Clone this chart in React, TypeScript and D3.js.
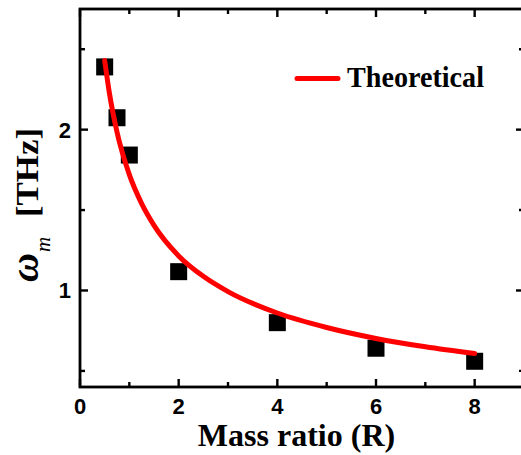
import React from "react";
import * as d3 from "d3";

const massRatio = [0.5, 0.75, 1, 2, 4, 6, 8];
const omegaMeasured = [2.39, 2.074, 1.842, 1.117, 0.8, 0.641, 0.56];

const theoryR = [0.5, 0.6, 0.75, 1, 1.25, 1.5, 2, 2.5, 3, 4, 5, 6, 7, 8];
const theoryOmega = [2.43, 2.22, 1.985, 1.72, 1.54, 1.405, 1.215, 1.088, 0.993, 0.86, 0.77, 0.702, 0.65, 0.608];

const xMajorTicks = [0, 2, 4, 6, 8];
const xMinorTicks = [1, 3, 5, 7, 9];
const yMajorTicks = [1, 2];
const yMinorTicks = [0.5, 1.5, 2.5];

const legendLabel = "Theoretical";
const xTitle = "Mass ratio (R)";

const W = 521;
const H = 455;
const left = 80;
const right = 524;
const top = 9;
const bottom = 387;

export default function App() {
  const x = d3.scaleLinear().domain([0, 9]).range([left, right]);
  const y = d3.scaleLinear().domain([0.4, 2.75]).range([bottom, top]);

  const line = d3
    .line<number>()
    .x((_, i) => x(theoryR[i]))
    .y((d) => y(d))
    .curve(d3.curveMonotoneX);

  const sq = 17;
  const tickFont = "'Liberation Sans', Arial, sans-serif";
  const serif = "'Liberation Serif', 'Times New Roman', serif";
  const axisW = 2.8;
  const majL = 8;
  const minL = 5;

  return (
    <svg
      width={W}
      height={H}
      style={{ position: "absolute", left: 0, top: 0, background: "#fff" }}
    >
      {/* frame */}
      <rect
        x={left}
        y={top}
        width={right - left}
        height={bottom - top}
        fill="none"
        stroke="#000"
        strokeWidth={axisW}
      />
      {/* x ticks bottom & top */}
      {xMajorTicks.map((t) => (
        <g key={"xM" + t}>
          <line x1={x(t)} x2={x(t)} y1={bottom} y2={bottom - majL} stroke="#000" strokeWidth={2.4} />
          <line x1={x(t)} x2={x(t)} y1={top} y2={top + majL} stroke="#000" strokeWidth={2.4} />
          <text
            x={x(t)}
            y={413.5}
            textAnchor="middle"
            fontFamily={tickFont}
            fontWeight="bold"
            fontSize={22}
          >
            {t}
          </text>
        </g>
      ))}
      {xMinorTicks.map((t) => (
        <g key={"xm" + t}>
          <line x1={x(t)} x2={x(t)} y1={bottom} y2={bottom - minL} stroke="#000" strokeWidth={2.4} />
          <line x1={x(t)} x2={x(t)} y1={top} y2={top + minL} stroke="#000" strokeWidth={2.4} />
        </g>
      ))}
      {/* y ticks left & right */}
      {yMajorTicks.map((t) => (
        <g key={"yM" + t}>
          <line x1={left} x2={left + majL} y1={y(t)} y2={y(t)} stroke="#000" strokeWidth={2.4} />
          <line x1={right} x2={right - majL} y1={y(t)} y2={y(t)} stroke="#000" strokeWidth={2.4} />
          <text
            x={71}
            y={y(t) + 8}
            textAnchor="end"
            fontFamily={tickFont}
            fontWeight="bold"
            fontSize={22}
          >
            {t}
          </text>
        </g>
      ))}
      {yMinorTicks.map((t) => (
        <g key={"ym" + t}>
          <line x1={left} x2={left + minL} y1={y(t)} y2={y(t)} stroke="#000" strokeWidth={2.4} />
          <line x1={right} x2={right - minL} y1={y(t)} y2={y(t)} stroke="#000" strokeWidth={2.4} />
        </g>
      ))}

      {/* measured squares */}
      {massRatio.map((r, i) => (
        <rect
          key={"s" + i}
          x={x(r) - sq / 2}
          y={y(omegaMeasured[i]) - sq / 2}
          width={sq}
          height={sq}
          fill="#000"
        />
      ))}

      {/* theoretical curve */}
      <path
        d={line(theoryOmega) || ""}
        fill="none"
        stroke="#ff0000"
        strokeWidth={5}
        strokeLinecap="round"
      />

      {/* legend */}
      <line x1={297} x2={338} y1={78.5} y2={78.5} stroke="#ff0000" strokeWidth={5} strokeLinecap="round" />
      <text
        x={347}
        y={87}
        fontFamily={serif}
        fontWeight="bold"
        fontSize={29}
        textLength={137}
        lengthAdjust="spacingAndGlyphs"
      >
        {legendLabel}
      </text>

      {/* x title */}
      <text
        x={296.5}
        y={446}
        textAnchor="middle"
        fontFamily={serif}
        fontWeight="bold"
        fontSize={32}
      >
        {xTitle}
      </text>

      {/* y title */}
      <g transform="translate(38,282) rotate(-90)">
        <text fontFamily={serif}>
          <tspan x={0} y={0} fontStyle="italic" fontWeight="bold" fontSize={40}>
            ω
          </tspan>
          <tspan x={30} y={12} fontStyle="italic" fontSize={21}>
            m
          </tspan>
          <tspan x={65} y={0} fontWeight="bold" fontSize={32} textLength={89} lengthAdjust="spacingAndGlyphs">
            [THz]
          </tspan>
        </text>
      </g>
    </svg>
  );
}
